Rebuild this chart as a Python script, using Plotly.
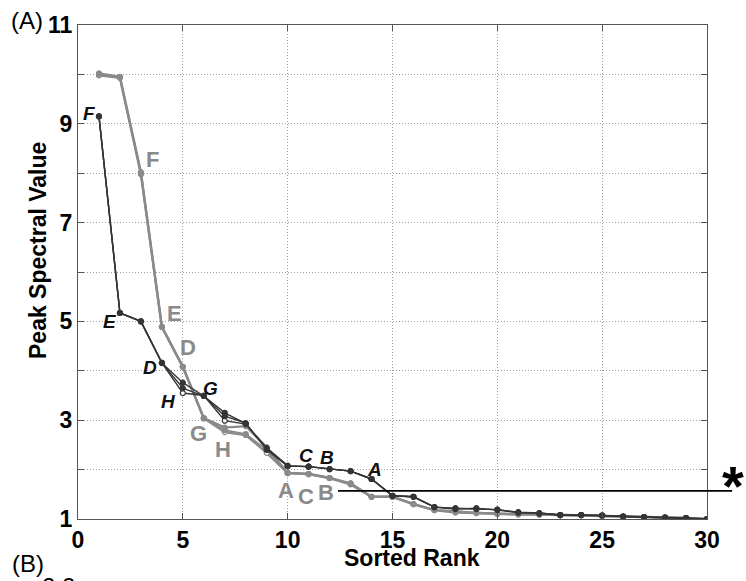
import plotly.graph_objects as go

# ---- data: peak spectral values sorted by rank ----
rank = list(range(1, 31))

dark_1 = [9.15, 5.17, 5.00, 4.16, 3.76, 3.49, 3.15, 2.93, 2.42, 2.07,
          2.06, 2.01, 1.97, 1.81, 1.47, 1.45, 1.24, 1.22, 1.21, 1.19,
          1.14, 1.12, 1.08, 1.08, 1.07, 1.05, 1.04, 1.03, 1.02, 1.00]
dark_2 = [9.15, 5.17, 5.00, 4.16, 3.55, 3.50, 2.99, 2.92, 2.44, 2.08,
          2.06, 2.01, 1.97, 1.81, 1.47, 1.45, 1.24, 1.20, 1.22, 1.18,
          1.13, 1.11, 1.08, 1.08, 1.07, 1.05, 1.04, 1.03, 1.02, 1.00]
dark_3 = [9.15, 5.17, 5.00, 4.16, 3.65, 3.49, 3.08, 2.94, 2.40, 2.07,
          2.06, 2.01, 1.97, 1.81, 1.47, 1.45, 1.24, 1.21, 1.20, 1.19,
          1.13, 1.12, 1.08, 1.08, 1.07, 1.05, 1.04, 1.03, 1.02, 1.00]

grey_1 = [10.00, 9.94, 8.00, 4.89, 4.08, 3.04, 2.80, 2.72, 2.40, 1.93,
          1.91, 1.83, 1.72, 1.45, 1.45, 1.30, 1.18, 1.15, 1.13, 1.11,
          1.10, 1.09, 1.08, 1.08, 1.07, 1.05, 1.04, 1.03, 1.02, 1.00]
grey_2 = [10.02, 9.95, 8.02, 4.89, 4.08, 3.04, 2.85, 2.88, 2.45, 1.93,
          1.91, 1.83, 1.70, 1.45, 1.45, 1.30, 1.18, 1.13, 1.12, 1.10,
          1.09, 1.09, 1.08, 1.08, 1.07, 1.05, 1.04, 1.03, 1.02, 1.00]
grey_3 = [9.98, 9.93, 7.98, 4.89, 4.08, 3.04, 2.76, 2.70, 2.34, 1.93,
          1.91, 1.83, 1.72, 1.45, 1.45, 1.30, 1.18, 1.16, 1.12, 1.11,
          1.10, 1.09, 1.08, 1.08, 1.07, 1.05, 1.04, 1.03, 1.02, 1.00]

# item labels attached to ranks on a curve: (label, curve, rank, x offset px, y offset px)
dark_labels = [("F", dark_1, 1, -9, 3), ("E", dark_1, 2, -10, -8), ("D", dark_1, 4, -12, -5),
               ("H", dark_2, 5, -14, -8), ("G", dark_1, 6, 7, 7), ("C", dark_1, 11, -3, 11),
               ("B", dark_1, 12, -3, 12), ("A", dark_1, 14, 3, 9)]
grey_labels = [("F", grey_1, 3, 12, 14), ("E", grey_1, 4, 13, 13), ("D", grey_1, 5, 5, 19),
               ("G", grey_1, 6, -5, -15), ("H", grey_1, 7, -2, -19), ("A", grey_1, 10, -2, -17),
               ("C", grey_1, 11, -3, -22), ("B", grey_1, 12, -4, -14)]

threshold = 1.57          # significance level marked with *
threshold_start = 12.4    # rank where the marker line begins
threshold_end = 31.2

x_range = [0, 30]
y_range = [1, 11]
x_ticks = [0, 5, 10, 15, 20, 25, 30]
y_ticks = list(range(1, 12))
y_ticktext = [str(v) if v % 2 == 1 else "" for v in y_ticks]

FONT = "Liberation Sans, Arial, sans-serif"
DARK = "#353535"
GREY = "#8a8a8a"

W, H = 746, 581
M_L, M_R, M_T, M_B = 78, 39, 25, 62
PW, PH = W - M_L - M_R, H - M_T - M_B

fig = go.Figure()


def add_series(values, color, width, filled):
    fig.add_trace(go.Scatter(
        x=rank, y=values, mode="lines+markers",
        line=dict(color=color, width=width),
        marker=dict(size=5, symbol="circle",
                    color=color if filled else "white",
                    line=dict(color=color, width=1.2)),
        showlegend=False, hoverinfo="skip"))


add_series(grey_2, GREY, 2.4, True)
add_series(grey_3, GREY, 2.4, False)
add_series(grey_1, GREY, 1.6, True)
add_series(dark_2, DARK, 1.4, False)
add_series(dark_3, DARK, 1.4, True)
add_series(dark_1, DARK, 1.4, True)

annotations = []
for name, curve, r, dx, dy in dark_labels:
    annotations.append(dict(x=r, y=curve[r - 1], xref="x", yref="y", text=f"<i>{name}</i>",
                            showarrow=False, xshift=dx, yshift=dy,
                            font=dict(family=FONT, size=19, color="#111111", weight="bold")))
for name, curve, r, dx, dy in grey_labels:
    annotations.append(dict(x=r, y=curve[r - 1], xref="x", yref="y", text=name,
                            showarrow=False, xshift=dx, yshift=dy,
                            font=dict(family=FONT, size=22, color=GREY, weight="bold")))

span = x_range[1] - x_range[0]
fig.add_shape(type="line", xref="paper", yref="y",
              x0=(threshold_start - x_range[0]) / span,
              x1=(threshold_end - x_range[0]) / span,
              y0=threshold, y1=threshold,
              line=dict(color="black", width=1.6))
annotations.append(dict(x=(threshold_end - x_range[0]) / span + 0.001, y=threshold,
                        xref="paper", yref="y", text="<b>*</b>", showarrow=False,
                        xanchor="center", yanchor="middle", yshift=5,
                        font=dict(family=FONT, size=56, color="black")))

# panel tags and axis titles, placed in page pixels
page_text = [
    dict(px=27, py=20, text="(A)", size=24, weight="normal"),
    dict(px=28, py=563, text="(B)", size=24, weight="normal"),
    dict(px=58, py=586, text="2.2", size=24, weight="normal"),
    dict(px=412, py=558, text="Sorted Rank", size=23, weight="bold"),
    dict(px=38, py=251, text="Peak Spectral Value", size=23, weight="bold", textangle=-90),
]
for t in page_text:
    annotations.append(dict(
        x=(t["px"] - M_L) / PW, y=(H - M_B - t["py"]) / PH,
        xref="paper", yref="paper", text=t["text"], textangle=t.get("textangle", 0),
        showarrow=False, xanchor="center", yanchor="middle",
        font=dict(family=FONT, size=t["size"], color="black", weight=t["weight"])))

axis_common = dict(
    showline=True, linecolor="#555555", linewidth=1, mirror="ticks",
    ticks="inside", ticklen=6, tickcolor="#555555", tickwidth=1,
    showgrid=True, gridcolor="#a0a0a0", griddash="1px,2px", gridwidth=1,
    zeroline=False,
    tickfont=dict(family=FONT, size=23, color="black", weight="bold"),
)

fig.update_xaxes(range=x_range, tickvals=x_ticks, **axis_common)
fig.update_yaxes(range=y_range, tickvals=y_ticks, ticktext=y_ticktext, **axis_common)

fig.update_layout(
    width=W, height=H,
    margin=dict(l=M_L, r=M_R, t=M_T, b=M_B),
    paper_bgcolor="white", plot_bgcolor="white",
    annotations=annotations,
    font=dict(family=FONT),
)

fig.write_html("out.html")
